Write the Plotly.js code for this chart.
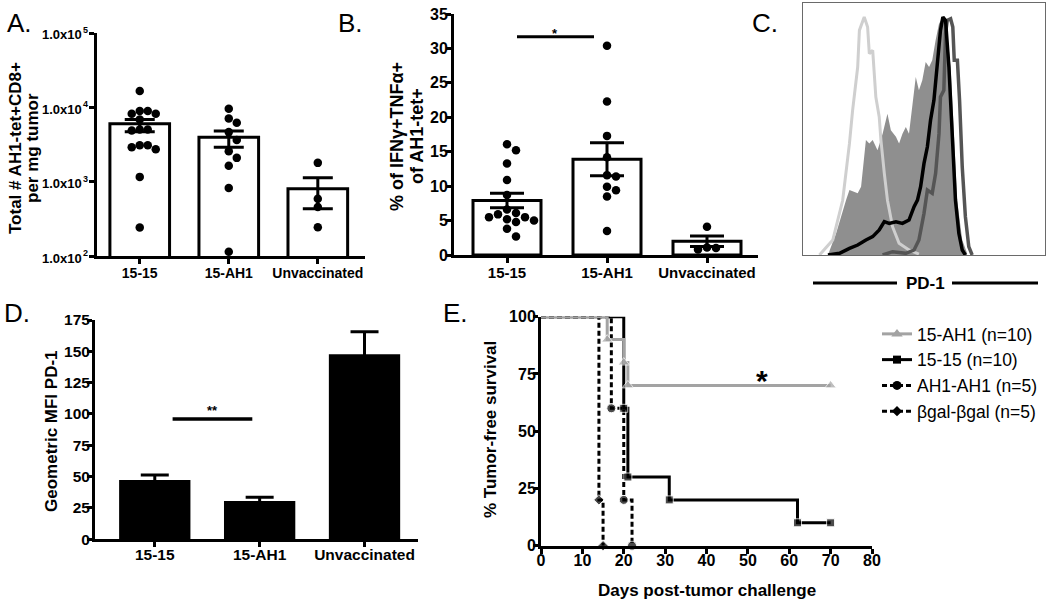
<!DOCTYPE html>
<html><head><meta charset="utf-8">
<script src="https://cdn.plot.ly/plotly-3.0.1.min.js"></script>
<style>html,body{margin:0;padding:0;background:#fff}#chart{width:1050px;height:603px}</style>
</head><body><div id="chart"></div>
<script>
// ---------- DATA ----------
const groups = ['15-15', '15-AH1', 'Unvaccinated'];

// Panel A: Total # AH1-tet+CD8+ per mg tumor (log scale)
const A_1515  = [16600, 8900, 8200, 8200, 8900, 6880, 5030, 4890, 5030, 3100, 2720, 2900, 3100, 1160, 241];
const A_15AH1 = [9600, 7100, 6200, 4640, 3630, 2570, 2090, 1640, 820, 114];
const A_unvac = [1790, 590, 455, 244];
const A_mean  = [6010, 3970, 800];
const A_upper = [6880, 4790, 1125];
const A_lower = [4700, 2900, 432];
const A_tickvals = [100, 1000, 10000, 100000];
const A_tickbase = '1.0x10';

// Panel B: % of IFNg+TNFa+ of AH1-tet+
const B_1515  = [16.1, 15.2, 13.3, 10.9, 8.7, 6.6, 5.9, 5.5, 5.0, 4.8, 5.2, 5.5, 6.1, 3.8, 2.7];
const B_15AH1 = [30.4, 22.3, 17.3, 14.2, 11.4, 11.6, 9.4, 9.9, 8.5, 3.5];
const B_unvac = [4.1, 1.1, 0.8, 1.0];
const B_mean  = [7.9, 13.9, 2.0];
const B_sem   = [1.05, 2.4, 0.75];
const B_sigY  = 31.7;

// Panel C: PD-1 histograms (x: fluorescence, arbitrary; y: % of max)
const C_fill_x  = [10.3,13.7,17.8,19.2,22.6,24,26,27.4,28.8,30.8,32.9,34.9,36.3,38.4,39.7,41.1,42.5,43.8,46.6,47.9,49.3,50.7,52.1,53.4,54.8,56.2,57.8,59.6,61,62.3,63.7,65.8,67.8];
const C_fill_y  = [0,9.1,23.1,27.3,25.9,28.7,48.3,46.9,48.3,44,51,59.4,52.4,49.7,46.9,51,53.8,51,74.8,69.2,73.4,81.1,79,81.8,90.2,97.2,100,93,79,51,23,6.3,0.7];
const C_light_x = [6.8,12.3,16.4,19.2,20.5,22.6,23.3,25.3,26.7,27.4,28.8,30.1,31.5,32.2,33.6,34.9,37,39.7,43.8,47.9];
const C_light_y = [0,6.3,23,46.9,60.8,79,94.4,100,95.8,84.6,86,66.4,58,48.3,34.3,23,11.9,4.9,2.1,0.4];
const C_dark_x  = [32.9,37,42.5,45.9,47.9,50,51.4,53.4,54.8,56.2,56.8,58.2,58.9,59.6,61,61.9,62.5,63.8,64.7,65.8,67.1,68.5,69.9];
const C_dark_y  = [0,1.4,0.7,2.1,6.3,17.5,27.3,25.9,34.3,51,66.4,69.2,93,98.6,99.3,95.8,81.8,81.8,65,37,16.1,3.5,0];
const C_black_x = [10.3,15.1,19.2,22.6,26,28.8,31.5,33.6,35.6,38.4,41.1,43.8,45.9,47.3,48.6,50,51.4,52.7,54.1,55.5,56.8,57.8,58.9,60.3,61.6,63,64.4,65.8,67.1];
const C_black_y = [0,0.7,2.8,4.2,6.3,7.7,10.5,14,13.3,14,13.3,14.7,20.3,23.1,28.7,38.5,45.5,56.6,65,80.4,94.4,100,98.6,79,51,23.1,9.1,2.1,0];

// Panel D: Geometric MFI PD-1
const D_mean = [47.3, 30.6, 147.6];
const D_sem  = [4.0, 2.9, 18.1];
const D_sigY = 96;

// Panel E: Kaplan-Meier tumor-free survival
const E_names = ['15-AH1 (n=10)', '15-15 (n=10)', 'AH1-AH1 (n=5)', '\u03b2gal-\u03b2gal (n=5)'];
const E_days_15AH1 = [0, 16, 20, 21, 70];
const E_surv_15AH1 = [100, 90, 80, 70, 70];
const E_days_1515  = [0, 20, 21, 31, 62, 70];
const E_surv_1515  = [100, 60, 30, 20, 10, 10];
const E_days_AH1   = [0, 17, 20, 22];
const E_surv_AH1   = [100, 60, 20, 0];
const E_days_bgal  = [0, 14, 15];
const E_surv_bgal  = [100, 20, 0];

// ---------- HELPERS ----------
const FONT = 'Liberation Sans, Arial, Helvetica, sans-serif';
const W = 1050, H = 603;
const px = v => v / W;
const py = v => 1 - v / H;

// simple beeswarm: returns horizontal offsets (px) so that markers don't overlap
function swarm(yPix, diam) {
  const idx = yPix.map((v, i) => i).sort((a, b) => yPix[b] - yPix[a]);
  const placed = [];
  const off = new Array(yPix.length).fill(0);
  idx.forEach(i => {
    for (let k = 0; k < 40; k++) {
      const step = Math.ceil(k / 2) * (k % 2 === 1 ? 1 : -1);
      const dx = step * diam;
      const ok = placed.every(p => (p.x - dx) ** 2 + (p.y - yPix[i]) ** 2 >= diam * diam * 0.98);
      if (ok) { off[i] = dx; placed.push({ x: dx, y: yPix[i] }); break; }
    }
  });
  return off;
}

function catAxis(domain, range, anchor, tfs, so) {
  return {
    domain: domain, range: range, anchor: anchor, type: 'linear',
    tickvals: groups.map((g, i) => i), ticktext: groups,
    showline: true, linewidth: 3, linecolor: '#000',
    ticks: 'outside', ticklen: 5, tickwidth: 3, tickcolor: '#000', ticklabelstandoff: so,
    showgrid: false, zeroline: false,
    tickfont: { family: FONT, size: tfs, color: '#000', weight: 'bold' }
  };
}
function valAxis(domain, range, anchor, extra, tfs, so) {
  return Object.assign({
    domain: domain, range: range, anchor: anchor,
    showline: true, linewidth: 3, linecolor: '#000',
    ticks: 'outside', ticklen: 5, tickwidth: 3, tickcolor: '#000', ticklabelstandoff: so,
    showgrid: false, zeroline: false,
    tickfont: { family: FONT, size: tfs, color: '#000', weight: 'bold' }
  }, extra);
}

const traces = [];

// ---------- PANEL A ----------
const A_pxPerCat = 89, A_pxPerDec = 74;
traces.push({
  type: 'bar', x: groups.map((g, i) => i), y: A_mean, xaxis: 'x', yaxis: 'y', width: 0.67,
  marker: { color: '#fff', line: { color: '#000', width: 3 } },
  error_y: { type: 'data', symmetric: false, array: A_upper.map((u, i) => u - A_mean[i]),
    arrayminus: A_mean.map((m, i) => m - A_lower[i]), color: '#000', thickness: 3, width: 15 },
  showlegend: false, hoverinfo: 'skip'
});
[A_1515, A_15AH1, A_unvac].forEach((arr, gi) => {
  const off = swarm(arr.map(v => Math.log10(v) * A_pxPerDec), 8);
  traces.push({
    type: 'scatter', mode: 'markers', xaxis: 'x', yaxis: 'y',
    x: arr.map((v, i) => gi + off[i] / A_pxPerCat), y: arr,
    marker: { color: '#000', size: 8.5 }, showlegend: false, cliponaxis: false, hoverinfo: 'skip'
  });
});

// ---------- PANEL B ----------
const B_pxPerCat = 100, B_pxPerUnit = 6.886;
traces.push({
  type: 'bar', x: groups.map((g, i) => i), y: B_mean, xaxis: 'x2', yaxis: 'y2', width: 0.68,
  marker: { color: '#fff', line: { color: '#000', width: 3 } },
  error_y: { type: 'data', array: B_sem, color: '#000', thickness: 3, width: 17 },
  showlegend: false, hoverinfo: 'skip'
});
[B_1515, B_15AH1, B_unvac].forEach((arr, gi) => {
  const off = swarm(arr.map(v => v * B_pxPerUnit), 9);
  traces.push({
    type: 'scatter', mode: 'markers', xaxis: 'x2', yaxis: 'y2',
    x: arr.map((v, i) => gi + off[i] / B_pxPerCat), y: arr,
    marker: { color: '#000', size: 8.5 }, showlegend: false, cliponaxis: false, hoverinfo: 'skip'
  });
});

// ---------- PANEL C ----------
traces.push({ type: 'scatter', mode: 'lines', x: C_fill_x, y: C_fill_y, xaxis: 'x3', yaxis: 'y3',
  fill: 'tozeroy', fillcolor: '#8f8f8f', line: { width: 0, color: '#8f8f8f' }, showlegend: false, hoverinfo: 'skip' });
traces.push({ type: 'scatter', mode: 'lines', x: C_light_x, y: C_light_y, xaxis: 'x3', yaxis: 'y3',
  line: { width: 3, color: '#cfcfcf' }, showlegend: false, hoverinfo: 'skip' });
traces.push({ type: 'scatter', mode: 'lines', x: C_dark_x, y: C_dark_y, xaxis: 'x3', yaxis: 'y3',
  line: { width: 3.5, color: '#555555' }, showlegend: false, hoverinfo: 'skip' });
traces.push({ type: 'scatter', mode: 'lines', x: C_black_x, y: C_black_y, xaxis: 'x3', yaxis: 'y3',
  line: { width: 3.5, color: '#000' }, showlegend: false, hoverinfo: 'skip' });

// ---------- PANEL D ----------
traces.push({
  type: 'bar', x: groups.map((g, i) => i), y: D_mean, xaxis: 'x4', yaxis: 'y4', width: 0.68,
  marker: { color: '#000', line: { color: '#000', width: 0 } },
  error_y: { type: 'data', array: D_sem, color: '#000', thickness: 3, width: 14 },
  showlegend: false, hoverinfo: 'skip'
});

// ---------- PANEL E ----------
function markerSizes(n, s) { return Array.from({ length: n }, (v, i) => i === 0 ? 0 : s); }
const E_series = [
  { x: E_days_bgal, y: E_surv_bgal, name: E_names[3], color: '#000', dash: '5px,3px', symbol: 'diamond', size: 8 },
  { x: E_days_AH1, y: E_surv_AH1, name: E_names[2], color: '#000', dash: '5px,3px', symbol: 'circle', size: 9 },
  { x: E_days_1515, y: E_surv_1515, name: E_names[1], color: '#000', dash: 'solid', symbol: 'square', size: 8 },
  { x: E_days_15AH1, y: E_surv_15AH1, name: E_names[0], color: '#a3a3a3', dash: 'solid', symbol: 'triangle-up', size: 10 }
];
E_series.forEach(s => {
  traces.push({
    type: 'scatter', mode: 'lines+markers', x: s.x, y: s.y, name: s.name, xaxis: 'x5', yaxis: 'y5',
    line: { shape: 'hv', color: s.color, width: 3, dash: s.dash },
    marker: { symbol: s.symbol, color: s.color, size: markerSizes(s.x.length, s.size) },
    cliponaxis: false, hoverinfo: 'skip', showlegend: false
  });
});
// legend entries (same styles, constant marker size)
E_series.forEach(s => {
  traces.push({
    type: 'scatter', mode: 'lines+markers', x: [null], y: [null], name: s.name, xaxis: 'x5', yaxis: 'y5',
    line: { color: s.color, width: 3, dash: s.dash },
    marker: { symbol: s.symbol, color: s.color, size: s.size },
    hoverinfo: 'skip', showlegend: true
  });
});

// ---------- LAYOUT ----------
const dA = [px(97), px(365)], rA = [py(256), py(33)];
const dB = [px(454), px(758)], rB = [py(255), py(14)];
const dC = [px(803), px(1045)], rC = [py(255), py(3)];
const dD = [px(95), px(418)], rD = [py(539.3), py(320)];
const dE = [px(541), px(872)], rE = [py(545.7), py(316.7)];

function ann(text, x, y, size, opts, weight) {
  return Object.assign({ text: text, x: px(x), y: py(y), xref: 'paper', yref: 'paper',
    showarrow: false, xanchor: 'center', yanchor: 'middle',
    font: { family: FONT, size: size, color: '#000', weight: weight || 'normal' } }, opts || {});
}

// Panel A y tick labels: "1.0x10" with a raised exponent, placed at each tick value
const A_tickAnns = [];
A_tickvals.forEach(v => {
  const lg = Math.log10(v);
  A_tickAnns.push({ text: A_tickbase, xref: 'paper', yref: 'y', x: px(84), y: lg, xanchor: 'right', yanchor: 'middle',
    yshift: -2, showarrow: false, font: { family: FONT, size: 13, color: '#000', weight: 'bold' } });
  A_tickAnns.push({ text: String(Math.round(lg)), xref: 'paper', yref: 'y', x: px(80.5), y: lg, xanchor: 'left', yanchor: 'middle',
    yshift: 3, showarrow: false, font: { family: FONT, size: 9, color: '#000', weight: 'bold' } });
});

const layout = {
  width: W, height: H, margin: { l: 0, r: 0, t: 0, b: 0 },
  paper_bgcolor: '#fff', plot_bgcolor: 'rgba(0,0,0,0)',
  font: { family: FONT, color: '#000' },
  xaxis: catAxis(dA, [-0.48, 2.53], 'y', 14, -3),
  yaxis: valAxis(rA, [2, 5], 'x', { type: 'log', tickvals: A_tickvals, showticklabels: false }, 14, 0),
  xaxis2: catAxis(dB, [-0.53, 2.51], 'y2', 15, -3),
  yaxis2: valAxis(rB, [0, 35], 'x2', { dtick: 5, tick0: 0 }, 16, -5),
  xaxis3: { domain: dC, range: [0, 100], anchor: 'y3', showline: true, mirror: true, linewidth: 1, linecolor: '#6a6a6a',
    showticklabels: false, ticks: '', showgrid: false, zeroline: false },
  yaxis3: { domain: rC, range: [0, 105.9], anchor: 'x3', showline: true, mirror: true, linewidth: 1, linecolor: '#6a6a6a',
    showticklabels: false, ticks: '', showgrid: false, zeroline: false },
  xaxis4: catAxis(dD, [-0.57, 2.51], 'y4', 15.5, -6),
  yaxis4: valAxis(rD, [0, 175], 'x4', { dtick: 25, tick0: 0 }, 15.5, -6),
  xaxis5: valAxis(dE, [0, 80], 'y5', { dtick: 10, tick0: 0 }, 16, -7),
  yaxis5: valAxis(rE, [0, 100], 'x5', { dtick: 25, tick0: 0 }, 16, -6),
  showlegend: true,
  legend: { x: px(877), y: py(316), xanchor: 'left', yanchor: 'top', traceorder: 'reversed',
    font: { family: FONT, size: 17.5, color: '#000' }, bgcolor: 'rgba(0,0,0,0)', itemwidth: 30, tracegroupgap: 0 },
  shapes: [
    { type: 'line', xref: 'x2', yref: 'y2', x0: 0.1, x1: 0.87, y0: B_sigY, y1: B_sigY, line: { color: '#000', width: 3 } },
    { type: 'line', xref: 'x4', yref: 'y4', x0: 0.17, x1: 0.93, y0: D_sigY, y1: D_sigY, line: { color: '#000', width: 3.5 } },
    { type: 'line', xref: 'paper', yref: 'paper', x0: px(813), x1: px(897), y0: py(283), y1: py(283), line: { color: '#000', width: 3 } },
    { type: 'line', xref: 'paper', yref: 'paper', x0: px(952), x1: px(1038), y0: py(283), y1: py(283), line: { color: '#000', width: 3 } }
  ],
  annotations: [
    ann('A.', 19, 23, 26), ann('B.', 350, 23, 26), ann('C.', 765, 23, 26), ann('D.', 17, 313, 26), ann('E.', 455, 313, 26),
    ann('Total # AH1-tet+CD8+', 15, 148, 17, { textangle: -90 }, 'bold'),
    ann('per mg tumor', 32, 148, 17, { textangle: -90 }, 'bold'),
    ann('% of IFN\u03b3+TNF\u03b1+', 397, 137, 18, { textangle: -90 }, 'bold'),
    ann('of AH1-tet+', 417, 136, 18, { textangle: -90 }, 'bold'),
    ann('Geometric MFI PD-1', 51, 431, 17, { textangle: -90 }, 'bold'),
    ann('% Tumor-free survival', 490, 430, 17, { textangle: -90 }, 'bold'),
    ann('Days post-tumor challenge', 707, 590, 17, {}, 'bold'),
    ann('PD-1', 925, 283, 17, {}, 'bold'),
    { text: '*', x: 0.48, y: 32.2, xref: 'x2', yref: 'y2', showarrow: false, yanchor: 'middle',
      font: { family: FONT, size: 13, color: '#000', weight: 'bold' } },
    { text: '**', x: 0.55, y: 102.4, xref: 'x4', yref: 'y4', showarrow: false, yanchor: 'middle',
      font: { family: FONT, size: 13, color: '#000', weight: 'bold' } },
    { text: '*', x: 53.3, y: 72, xref: 'x5', yref: 'y5', showarrow: false, yanchor: 'middle',
      font: { family: FONT, size: 30, color: '#000', weight: 'bold' } }
  ].concat(A_tickAnns)
};

Plotly.newPlot('chart', traces, layout, { staticPlot: true, displayModeBar: false });
</script>
</body></html>
